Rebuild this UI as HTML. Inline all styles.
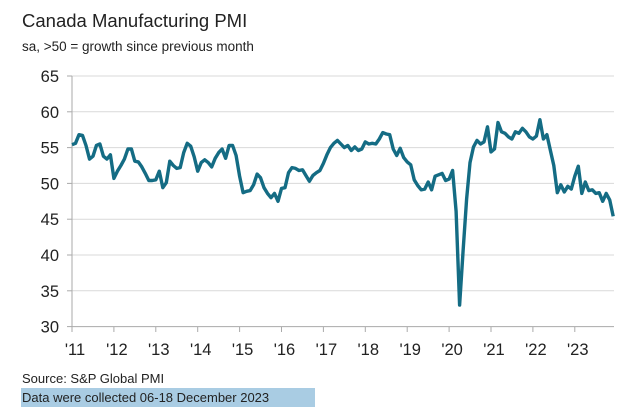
<!DOCTYPE html>
<html><head><meta charset="utf-8"><style>
body{margin:0;background:#fff;width:639px;height:412px;overflow:hidden;font-family:"Liberation Sans",sans-serif}
svg{position:absolute;left:0;top:0}
</style></head><body>
<svg id="s" width="639" height="412" xmlns="http://www.w3.org/2000/svg">
<text x="22" y="27" font-size="18.5" fill="#222" font-family="Liberation Sans">Canada Manufacturing PMI</text>
<text x="22" y="51" font-size="13.5" fill="#222" font-family="Liberation Sans">sa, &gt;50 = growth since previous month</text>
<rect x="21" y="388" width="294" height="19" fill="#a9cce3"/>
<text x="22" y="383" font-size="13" fill="#222" font-family="Liberation Sans">Source: S&amp;P Global PMI</text>
<text x="22" y="402" font-size="13" fill="#222" font-family="Liberation Sans">Data were collected 06-18 December 2023</text>
<g id="g"></g>
</svg>
<script>
var g=document.getElementById('g'),h='';
function Y(v){return 76+(65-v)*7.16;}
for(var v=30;v<=65;v+=5){var y=Y(v);
 if(v>30)h+='<line x1="72" x2="614" y1="'+y+'" y2="'+y+'" stroke="#d9d9d9" stroke-width="1"/>';
 h+='<line x1="67" x2="72" y1="'+y+'" y2="'+y+'" stroke="#aaa"/>';
 h+='<text x="59" y="'+(y+6)+'" font-size="16.5" text-anchor="end" fill="#222" font-family="Liberation Sans">'+v+'</text>';}
h+='<line x1="72" x2="72" y1="76" y2="327" stroke="#aaa"/><line x1="72" x2="614" y1="326.6" y2="326.6" stroke="#aaa"/>';
for(var i=0;i<13;i++){var x=72+i*41.9;
 h+='<line x1="'+x+'" x2="'+x+'" y1="327" y2="332" stroke="#aaa"/>';
 h+='<text x="'+(x+3)+'" y="355" font-size="16.5" text-anchor="middle" fill="#222" font-family="Liberation Sans">\''+(11+i)+'</text>';}
var d=[55.4,55.6,56.8,56.7,55.3,53.4,53.8,55.3,55.5,53.8,53.4,54.0,
50.7,51.7,52.5,53.4,54.8,54.8,53.1,53.0,52.3,51.4,50.4,50.4,
50.5,51.7,49.4,50.1,53.1,52.5,52.1,52.2,54.3,55.6,55.2,53.7,
51.7,52.9,53.3,52.9,52.3,53.5,54.3,54.8,53.5,55.3,55.3,53.9,
51.0,48.7,48.9,49.0,49.8,51.3,50.8,49.4,48.6,48.0,48.6,47.5,
49.3,49.4,51.5,52.2,52.1,51.8,51.9,51.1,50.3,51.1,51.5,51.8,
52.8,54.0,55.0,55.6,56.0,55.5,55.0,55.3,54.6,55.1,54.6,54.8,
55.8,55.5,55.6,55.5,56.2,57.1,56.9,56.8,54.8,53.9,54.9,53.6,
53.0,52.6,50.5,49.7,49.1,49.2,50.2,49.1,51.0,51.2,51.4,50.4,
50.6,51.8,46.1,33.0,40.6,47.8,52.9,55.1,56.0,55.5,55.8,57.9,
54.4,54.8,58.5,57.2,57.0,56.5,56.2,57.2,57.0,57.7,57.2,56.5,
56.2,56.6,58.9,56.2,56.8,54.6,52.5,48.7,49.8,48.8,49.6,49.2,
51.0,52.4,48.6,50.2,49.0,49.1,48.6,48.7,47.5,48.6,47.7,45.4];
var p='';for(var k=0;k<d.length;k++){p+=(k?'L':'M')+(72+k*41.9/12).toFixed(1)+','+Y(d[k]).toFixed(1);}
h+='<path d="'+p+'" fill="none" stroke="#146c84" stroke-width="3.4" stroke-linejoin="round"/>';
g.innerHTML=h;
</script>
</body></html>
